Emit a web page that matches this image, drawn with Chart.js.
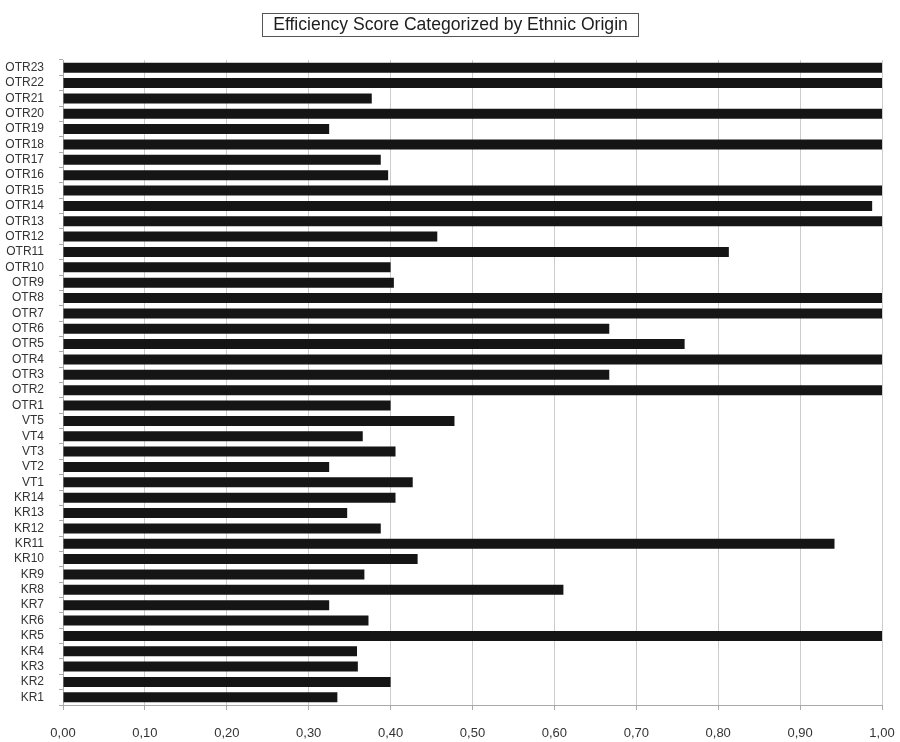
<!DOCTYPE html>
<html>
<head>
<meta charset="utf-8">
<script src="https://cdn.jsdelivr.net/npm/chart.js@4"></script>
<style>
  html, body { margin: 0; padding: 0; background: #fff; }
  #wrap { width: 900px; height: 742px; position: relative; }
</style>
</head>
<body>
<div id="wrap"><canvas id="effChart"></canvas></div>
<script>
// categories, bottom to top as in the picture
const units = [
  "KR1", "KR2", "KR3", "KR4", "KR5", "KR6", "KR7", "KR8", "KR9", "KR10",
  "KR11", "KR12", "KR13", "KR14",
  "VT1", "VT2", "VT3", "VT4", "VT5",
  "OTR1", "OTR2", "OTR3", "OTR4", "OTR5", "OTR6", "OTR7", "OTR8", "OTR9", "OTR10",
  "OTR11", "OTR12", "OTR13", "OTR14", "OTR15", "OTR16", "OTR17", "OTR18", "OTR19",
  "OTR20", "OTR21", "OTR22", "OTR23"
];

const scores = [
  0.335, 0.400, 0.360, 0.359, 1.000, 0.373, 0.325, 0.611, 0.368, 0.433,
  0.942, 0.388, 0.347, 0.406,
  0.427, 0.325, 0.406, 0.366, 0.478,
  0.400, 1.000, 0.667, 1.000, 0.759, 0.667, 1.000, 1.000, 0.404, 0.400,
  0.813, 0.457, 1.000, 0.988, 1.000, 0.397, 0.388, 1.000, 0.325,
  1.000, 0.377, 1.000, 1.000
];

const titleText = "Efficiency Score Categorized by Ethnic Origin";
const sans = "'Liberation Sans', Arial, sans-serif";

// boxed title, drawn like the old spreadsheet chart
const boxedTitle = {
  id: "boxedTitle",
  afterDraw(chart) {
    const ctx = chart.ctx;
    ctx.save();
    ctx.font = "17.6px " + sans;
    ctx.fillStyle = "#1e1e1e";
    ctx.textAlign = "center";
    ctx.textBaseline = "middle";
    ctx.fillText(titleText, 450.5, 25.5);
    ctx.strokeStyle = "#555";
    ctx.lineWidth = 1;
    ctx.strokeRect(262.5, 13.5, 376, 23);
    ctx.restore();
  }
};

new Chart(document.getElementById("effChart"), {
  type: "bar",
  data: {
    labels: units,
    datasets: [{
      data: scores,
      backgroundColor: "#151515",
      borderWidth: 0,
      barPercentage: 0.65,
      categoryPercentage: 1.0
    }]
  },
  options: {
    indexAxis: "y",
    responsive: true,
    maintainAspectRatio: false,
    animation: false,
    layout: { padding: { top: 60, right: 18, left: 0, bottom: 0 } },
    plugins: {
      legend: { display: false },
      tooltip: { enabled: false },
      title: { display: false }
    },
    scales: {
      x: {
        min: 0,
        max: 1,
        afterFit: (s) => {
          s.height = 37;
          s.paddingRight = 0;   // keep the plot right edge at the padding
        },
        ticks: {
          stepSize: 0.1,
          padding: 16,
          color: "#333",
          font: { family: sans, size: 13 },
          callback: (v) => Number(v).toFixed(2).replace(".", ",")
        },
        grid: { color: "#cccccc", tickColor: "#aaaaaa", tickLength: 5, lineWidth: 1 },
        border: { color: "#aaaaaa" }
      },
      y: {
        reverse: true,
        afterFit: (s) => { s.width = 63; },
        ticks: {
          autoSkip: false,
          padding: 15,
          color: "#333",
          font: { family: sans, size: 12 }
        },
        grid: { drawOnChartArea: false, tickColor: "#aaaaaa", tickLength: 4 },
        border: { color: "#aaaaaa" }
      }
    }
  },
  plugins: [boxedTitle]
});
</script>
</body>
</html>
